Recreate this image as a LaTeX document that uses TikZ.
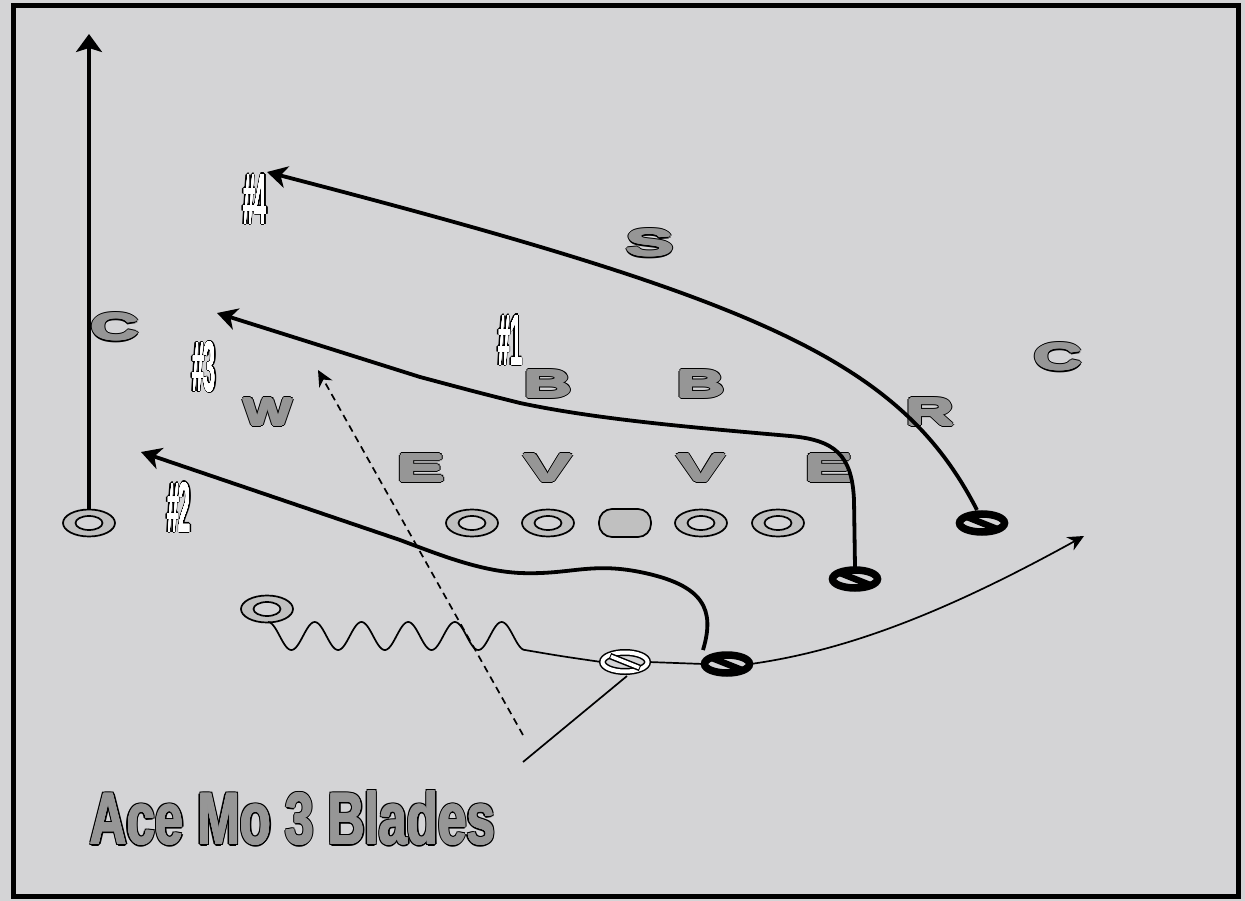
\documentclass[tikz,border=0pt]{standalone}
\usepackage{fontspec}
\setmainfont{Liberation Sans}
\usetikzlibrary{arrows.meta,shapes.geometric,calc}
\definecolor{bg}{RGB}{212,212,214}
\definecolor{lettergray}{RGB}{150,150,150}
\definecolor{playergray}{RGB}{192,192,192}
\newlength\olsh
\newlength\olsd
% eight copies of \olb at offset #1 in colour #2
\newcommand\olring[2]{%
  \setlength\olsh{#1}\setlength\olsd{0.7071\olsh}%
  \rlap{\kern\olsh\olb{#2}}\rlap{\kern-\olsh\olb{#2}}%
  \rlap{\raise\olsh\hbox{\olb{#2}}}\rlap{\lower\olsh\hbox{\olb{#2}}}%
  \rlap{\kern\olsd\raise\olsd\hbox{\olb{#2}}}%
  \rlap{\kern\olsd\lower\olsd\hbox{\olb{#2}}}%
  \rlap{\kern-\olsd\raise\olsd\hbox{\olb{#2}}}%
  \rlap{\kern-\olsd\lower\olsd\hbox{\olb{#2}}}}
% #1 outline offset, #2 embolden offset, #3 fill colour, #4 width, #5 height, #6 text
\newcommand\outl[6]{%
  \def\olb##1{\resizebox{#4}{#5}{\color{##1}#6}}%
  \leavevmode\olring{#1}{black}\olring{#2}{#3}\olb{#3}}
\newcommand\defl[1]{\outl{2.4pt}{1.1pt}{lettergray}{48pt}{26pt}{\bfseries #1}}
\newcommand\numl[1]{\outl{1.2pt}{0pt}{white}{24pt}{50pt}{\bfseries #1}}
\begin{document}
\begin{tikzpicture}[x=1pt,y=-1pt,
  letter/.style={inner sep=0pt},
  player/.style={ellipse, draw, line width=1.7pt, fill=playergray, minimum width=52pt, minimum height=27pt, inner sep=0pt,
    path picture={\draw[line width=1.7pt, fill=bg] (path picture bounding box.center) ellipse (13.5pt and 7pt);}},
  centerp/.style={rounded corners=13pt, draw, line width=1.7pt, fill=playergray, minimum width=52pt, minimum height=28pt, inner sep=0pt},
  blocker/.style={ellipse, minimum width=47pt, minimum height=19pt, inner sep=0pt},
  route/.style={line width=3.8pt, -{Stealth[length=20pt,width=22pt,inset=6pt]}},
  thinroute/.style={line width=1.7pt},
  thinarrow/.style={line width=1.7pt, -{Stealth[length=16pt,width=15pt,inset=5pt]}},
]
\useasboundingbox (0,0) rectangle (1245,901);
\fill[bg] (0,0) rectangle (1245,901);
\draw[line width=5pt] (13,5.5) rectangle (1238.5,896);

% offensive players
\node[player] (WR) at (89,523) {};
\node[player] (LT) at (472,523) {};
\node[player] (LG) at (548,523) {};
\node[centerp] (CT) at (625,523) {};
\node[player] (RG) at (701,523) {};
\node[player] (RT) at (778,523) {};
\node[player] (QB) at (267,609) {};
\node[blocker] (RB) at (625,662) {};
\node[blocker] (TE) at (727,664) {};
\node[blocker] (BL1) at (855,579) {};
\node[blocker] (BL2) at (982,523) {};

% defenders
\node[letter] (CL) at (115,327) {\defl{C}};
\node[letter] (W) at (268,412) {\defl{W}};
\node[letter] (S) at (650,243) {\defl{S}};
\node[letter] (B1) at (548,384) {\defl{B}};
\node[letter] (B2) at (701,384) {\defl{B}};
\node[letter] (E1) at (421,468) {\defl{E}};
\node[letter] (V1) at (548,468) {\defl{V}};
\node[letter] (V2) at (701,468) {\defl{V}};
\node[letter] (E2) at (829,468) {\defl{E}};
\node[letter] (R) at (930,412) {\defl{R}};
\node[letter] (CR) at (1058,357) {\defl{C}};

% numbers
\node[letter] (N4) at (255,199) {\numl{\#4}};
\node[letter] (N3) at (204,367) {\numl{\#3}};
\node[letter] (N1) at (510,340) {\numl{\#1}};
\node[letter] (N2) at (179,507) {\numl{\#2}};

% coordinates
\coordinate (topW) at (89,34);
\coordinate (t4) at (267,172);
\coordinate (t3) at (217,313);
\coordinate (t2) at (141,452);
\coordinate (tdash) at (318,370);
\coordinate (bdash) at (523,735);
\coordinate (bline) at (523,762);
\coordinate (wend) at (525,650);
\coordinate (tsweep) at (1084,536);

% vertical route
\draw[line width=4pt, -{Stealth[length=18pt,width=26pt,inset=4pt]}] (WR.north) -- (topW);

% #4 route
\draw[route] (977,510) .. controls (900,360) and (760,300) .. (t4);
% #3 route
\draw[route] (855,567) -- (854,500) .. controls (852,455) and (835,440) .. (790,436)
   .. controls (700,428) and (600,420) .. (520,403) .. controls (480,393) .. (420,377) -- (t3);
% #2 route
\draw[route] (703,650) .. controls (715,610) and (705,585) .. (640,572)
   .. controls (590,562) and (570,575) .. (520,573) .. controls (480,571) and (440,555) .. (400,540) -- (t2);

% QB motion
\draw[thinroute, line join=round] plot[domain=268:525, samples=200, smooth] (\x, {636-14*cos(((\x-268)/46.73)*360)});
\draw[thinroute] (wend) .. controls (560,656) .. (RB.west);
\draw[thinroute] (RB.east) -- (TE.west);
\draw[thinarrow] (TE.east) .. controls (850,650) and (950,610) .. (tsweep);

% dashed and solid lines
\draw[thinarrow, dash pattern=on 7pt off 5pt] (bdash) -- (tdash);
\draw[thinroute] (bline) -- (627,676);

% symbols
\foreach \n in {TE,BL1,BL2}{
  \draw[line width=7.5pt] (\n.center) ellipse (22.5pt and 9pt);
  \draw[line width=6.5pt] ($(\n.center)+(-15,-6)$) -- ($(\n.center)+(15,6)$);
}
\draw[line width=7pt] (RB.center) ellipse (22.5pt and 9.5pt);
\draw[line width=4pt, white] (RB.center) ellipse (22.5pt and 9.5pt);
\draw[line width=6.5pt] ($(RB.center)+(-15,-6)$) -- ($(RB.center)+(15,6)$);
\draw[line width=3.5pt, white, shorten <=1pt, shorten >=1pt] ($(RB.center)+(-15,-6)$) -- ($(RB.center)+(15,6)$);

% title
\node[letter, anchor=base west] (title) at (90,844) {\outl{2pt}{0.6pt}{lettergray}{405pt}{53pt}{\bfseries Ace Mo 3 Blades}};
\end{tikzpicture}
\end{document}
